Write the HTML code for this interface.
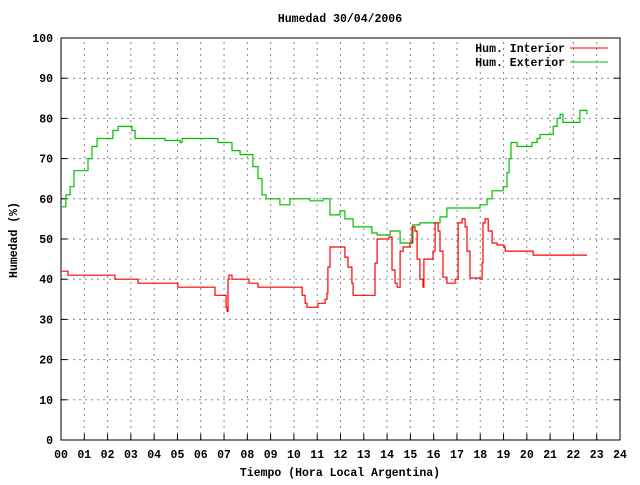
<!DOCTYPE html>
<html><head><meta charset="utf-8"><style>
body{margin:0;background:#fff;}
svg text{font-family:"Liberation Mono",monospace;font-size:11.5px;fill:#000;font-weight:600;}
</style></head><body>
<svg id="chart" width="640" height="480" xmlns="http://www.w3.org/2000/svg">
<rect width="640" height="480" fill="#fff"/>
<g id="grid"></g>
<g id="axes"></g>
<g id="series"></g>
<text x="340" y="22" text-anchor="middle">Humedad 30/04/2006</text>
<text x="340" y="476" text-anchor="middle">Tiempo (Hora Local Argentina)</text>
<text transform="translate(17,240) rotate(-90)" text-anchor="middle">Humedad (%)</text>
<g>
<text x="565" y="52" text-anchor="end">Hum. Interior</text>
<line x1="570" y1="48" x2="608" y2="48" stroke="#f00" stroke-width="1"/>
<text x="565" y="66" text-anchor="end">Hum. Exterior</text>
<line x1="570" y1="62" x2="608" y2="62" stroke="#00c000" stroke-width="1"/>
</g>
</svg>
<script>
const xTicks=["00","01","02","03","04","05","06","07","08","09","10","11","12","13","14","15","16","17","18","19","20","21","22","23","24"];
const yTicks=[0,10,20,30,40,50,60,70,80,90,100];
const extTime=[0,0.21,0.39,0.56,1.03,1.16,1.33,1.55,2.10,2.23,2.45,3.05,3.18,4.25,4.47,5.11,5.20,6.40,6.74,7.34,7.69,8.03,8.24,8.46,8.63,8.80,9.19,9.40,9.83,10.26,10.69,11.25,11.55,11.98,12.19,12.54,12.97,13.35,13.57,14.00,14.13,14.56,14.98,15.11,15.41,15.97,16.27,16.57,17.99,18.29,18.51,18.98,19.15,19.24,19.32,19.58,19.58,20.22,20.22,20.44,20.57,21.00,21.13,21.30,21.43,21.55,22.16,22.28,22.58];
const extVal=[58,61,63,67,67,70,73,75,75,77,78,77,75,75,74.5,74,75,75,74,72,71,71,68,65,61,60,60,58.5,60,60,59.5,60,56,57,55,53,53,51.5,51,51,52,49,49,53.5,54,54,55.5,57.7,58.5,60,62,63,66.5,70,74,74,73,73,74,75,76,76,78,80,81,79,79,82,81];
const intTime=[0.04,0.3,2.1,2.32,3.26,3.31,4.98,5.02,6.52,6.61,6.96,7.09,7.13,7.17,7.21,7.34,8.03,8.07,8.46,10.18,10.35,10.48,10.56,10.99,11.03,11.34,11.42,11.46,11.55,12.02,12.19,12.32,12.49,12.54,13.40,13.48,13.57,14.08,14.21,14.34,14.43,14.51,14.56,14.69,14.98,15.07,15.20,15.29,15.41,15.54,15.58,15.97,16.06,16.19,16.27,16.40,16.57,16.92,17.05,17.22,17.35,17.43,17.56,17.99,18.08,18.12,18.21,18.34,18.51,18.72,19.02,19.07,20.14,20.27,22.58];
const intVal=[42,41,41,40,40,39,39,38,38,36,36,33,32,40,41,40,40,39,38,38,36,34,33,33,34,35,36.5,43,48,48,45.5,43,39,36,36,44,50,50.5,42.3,39,38,38,47,48,49,53,52,45,40,38,45,47,54,52,47,40.5,39,40,54,55,53,47,40.3,40,44,54,55,52,49,48.5,48,47,47,46,46];
const X0=61,X1=620,Y0=440,Y1=38;
const xs=h=>X0+(X1-X0)*h/24;
const ys=v=>Y0-(Y0-Y1)*v/100;
const NS="http://www.w3.org/2000/svg";
const grid=document.getElementById('grid'),axes=document.getElementById('axes'),ser=document.getElementById('series');
function mk(tag,attrs,parent){const e=document.createElementNS(NS,tag);for(const k in attrs)e.setAttribute(k,attrs[k]);parent.appendChild(e);return e;}
xTicks.forEach((t,i)=>{const x=xs(i);
 if(i>0&&i<24){const g=mk('line',{x1:x,y1:Y0,x2:x,y2:Y1,stroke:'#888','stroke-dasharray':'2,4'},grid);
 
 }
 const tk=mk('line',{x1:x,y1:Y0,x2:x,y2:Y0-6,stroke:'#000'},axes);
 
 
 const tx=mk('text',{x:x,y:458,'text-anchor':'middle'},axes);tx.textContent=t;
 
 
});
yTicks.forEach(v=>{const y=ys(v);
 if(v>0&&v<100){const g=mk('line',{x1:X0,y1:y,x2:X1,y2:y,stroke:'#888','stroke-dasharray':'2,4'},grid);
 
 }
 const tk=mk('line',{x1:X0,y1:y,x2:X0+6,y2:y,stroke:'#000'},axes);
 
 
 const tk2=mk('line',{x1:X1,y1:y,x2:X1-6,y2:y,stroke:'#000'},axes);
 
 
 const tx=mk('text',{x:53,y:y+4,'text-anchor':'end'},axes);tx.textContent=v;
 
 
});
const border=mk('rect',{x:X0,y:Y1,width:X1-X0,height:Y0-Y1,fill:'none',stroke:'#000'},axes);


function line(T,V,color,name){
 const pts=[];
 T.forEach((t,i)=>{
  if(i>0) pts.push(xs(t).toFixed(1)+','+ys(V[i-1]).toFixed(1));
  pts.push(xs(t).toFixed(1)+','+ys(V[i]).toFixed(1));
 });
 const p=mk('polyline',{points:pts.join(' '),fill:'none',stroke:color,'stroke-width':1.2},ser);
 
 
}
line(extTime,extVal,'#00c000','series-exterior');
line(intTime,intVal,'#f00','series-interior');
</script>
</body></html>
